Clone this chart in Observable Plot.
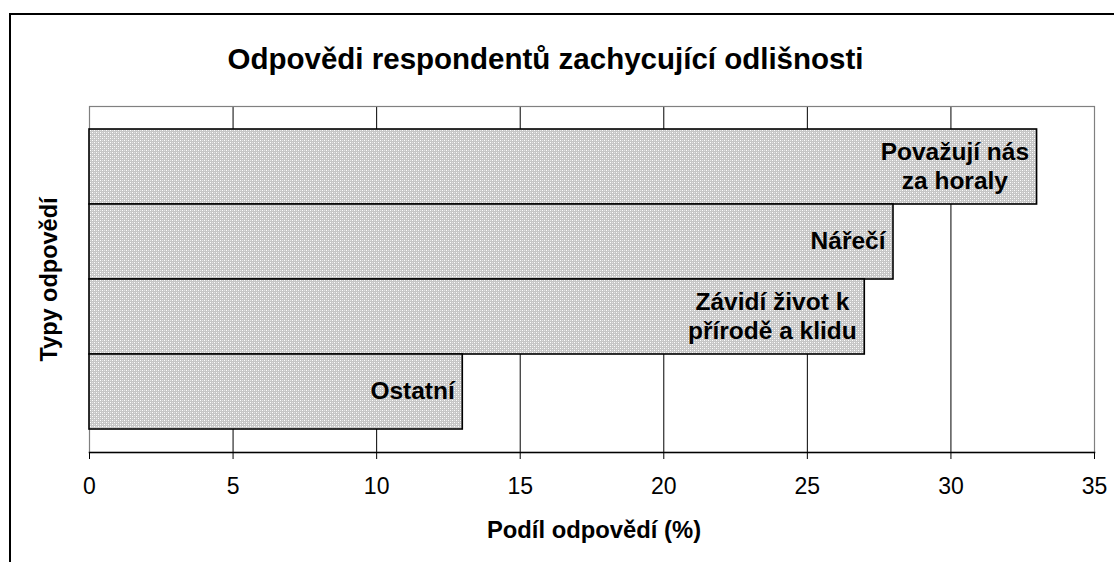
<!DOCTYPE html>
<html>
<head>
<meta charset="utf-8">
<script src="https://cdn.jsdelivr.net/npm/d3@7"></script>
<script src="https://cdn.jsdelivr.net/npm/@observablehq/plot@0.6"></script>
<style>
  html, body { margin: 0; padding: 0; background: #fff; overflow: hidden; }
  #outer { position: absolute; left: 9px; top: 13px; width: 1105px; height: 549px;
           border-left: 2px solid #000; border-top: 2px solid #000; box-sizing: border-box; }
  #chart { position: absolute; left: 0; top: 0; }
</style>
</head>
<body>
<div id="outer"></div>
<div id="chart"></div>
<script>
const title = "Odpovědi respondentů zachycující odlišnosti";
const xLabel = "Podíl odpovědí (%)";
const yLabel = "Typy odpovědí";
const categories = ["Považují nás za horaly", "Nářečí", "Závidí život k přírodě a klidu", "Ostatní"];
const barLabels = ["Považují nás\nza horaly", "Nářečí", "Závidí život k\npřírodě a klidu", "Ostatní"];
const values = [33, 28, 27, 13];
const xTicks = [0, 5, 10, 15, 20, 25, 30, 35];

const data = categories.map((c, i) => ({category: c, label: barLabels[i], value: values[i]}));
const font = "'Liberation Sans', Arial, Helvetica, sans-serif";

const svg = Plot.plot({
  width: 1114,
  height: 562,
  marginLeft: 89,
  marginRight: 20,
  marginTop: 106,
  marginBottom: 110,
  style: {fontFamily: font, fontSize: "23px", background: "transparent", color: "#000"},
  x: {domain: [0, 35], ticks: xTicks},
  y: {domain: categories, axis: null, paddingInner: 0, paddingOuter: 0.3},
  marks: [
    Plot.ruleX(xTicks.filter(d => d > 0 && d < 35), {stroke: "#000", strokeWidth: 1}),
    Plot.frame({stroke: "#808080", strokeWidth: 1.2}),
    Plot.frame({anchor: "bottom", stroke: "#000", strokeWidth: 1.5}),
    Plot.barX(data, {x: "value", y: "category", fill: "url(#hatch)", stroke: "#000", strokeWidth: 1.6}),
    Plot.text(data, {x: "value", y: "category", text: "label", textAnchor: "end", lineAnchor: "middle",
      lineHeight: 1.2, dx: -8, dy: -2, fontWeight: "bold", fontSize: 24.5, fill: "#000"}),
    Plot.text([title], {frameAnchor: "top-left", dx: 456, dy: -38, lineAnchor: "bottom", textAnchor: "middle",
      fontWeight: "bold", fontSize: 29.5, fill: "#000"}),
    Plot.text([yLabel], {frameAnchor: "left", dx: -40, rotate: -90, lineAnchor: "middle", textAnchor: "middle",
      fontWeight: "bold", fontSize: 23.5, fill: "#000"}),
    Plot.text([xLabel], {frameAnchor: "bottom", dx: 2, dy: 85, lineAnchor: "bottom", textAnchor: "middle",
      fontWeight: "bold", fontSize: 23.8, fill: "#000"}),
    Plot.axisX({ticks: xTicks, tickSize: 7, tickPadding: 18, fontSize: 23, label: null, stroke: "#000", fill: "#000"})
  ]
});

// crosshatch (mesh) pattern fill for the bars
const defs = d3.select(svg).insert("defs", ":first-child");
const pat = defs.append("pattern").attr("id", "hatch").attr("patternUnits", "userSpaceOnUse")
  .attr("width", 4).attr("height", 4);
pat.append("rect").attr("width", 4).attr("height", 4).attr("fill", "#c6c6c6");
[[0, 0, "#ffffff"], [2, 2, "#ffffff"], [2, 0, "#e2e2e2"], [0, 2, "#e2e2e2"]].forEach(([x, y, c]) =>
  pat.append("rect").attr("x", x).attr("y", y).attr("width", 1).attr("height", 1).attr("fill", c));

document.getElementById("chart").appendChild(svg);

// center multi-line bar labels relative to each other (right-aligned block)
const labelGroup = svg.querySelectorAll('g[aria-label="text"]')[0];
if (labelGroup) {
  labelGroup.querySelectorAll("text").forEach(t => {
    const spans = [...t.querySelectorAll("tspan")];
    if (spans.length < 2) return;
    const lens = spans.map(s => s.getComputedTextLength());
    const m = Math.max(...lens);
    spans.forEach((s, i) => {
      const x0 = parseFloat(s.getAttribute("x") || "0");
      s.setAttribute("x", x0 - (m - lens[i]) / 2);
    });
  });
}
</script>
</body>
</html>
